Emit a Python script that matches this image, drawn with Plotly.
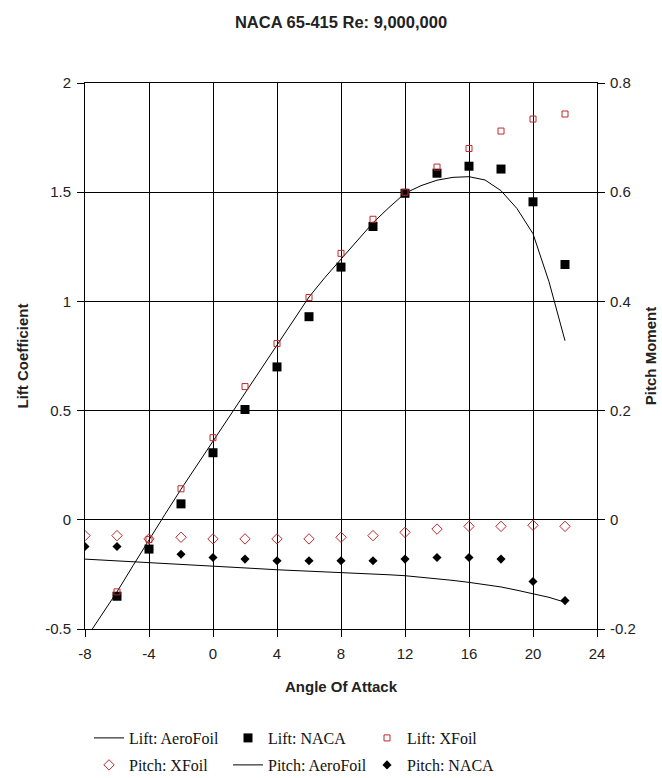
import plotly.graph_objects as go

# ---- data ----
aoa_pts = [-6, -4, -2, 0, 2, 4, 6, 8, 10, 12, 14, 16, 18, 20, 22]
lift_naca = [-0.35, -0.134, 0.073, 0.307, 0.505, 0.70, 0.93, 1.157, 1.343, 1.495, 1.587, 1.619, 1.606, 1.456, 1.169]
lift_xfoil = [-0.33, -0.09, 0.142, 0.376, 0.61, 0.807, 1.018, 1.22, 1.376, 1.50, 1.615, 1.70, 1.78, 1.835, 1.858]

aoa_line = [-8, -7, -6, -5, -4, -3, -2, -1, 0, 1, 2, 3, 4, 5, 6, 7, 8, 9, 10, 11, 12,
            13, 14, 15, 16, 17, 18, 19, 20, 21, 22]
lift_aerofoil = [-0.55, -0.44, -0.33, -0.21, -0.09, 0.025, 0.14, 0.25, 0.36, 0.47, 0.58,
                 0.69, 0.80, 0.91, 1.02, 1.11, 1.195, 1.28, 1.36, 1.43, 1.495,
                 1.53, 1.555, 1.568, 1.571, 1.556, 1.507, 1.425, 1.31, 1.09, 0.82]
pitch_aerofoil = [-0.072, -0.0735, -0.075, -0.0765, -0.078, -0.0797, -0.0815, -0.0832, -0.085,
                  -0.0865, -0.088, -0.0898, -0.0915, -0.0927, -0.094, -0.095, -0.096,
                  -0.0975, -0.099, -0.1007, -0.1024, -0.105, -0.108, -0.111, -0.1146,
                  -0.1185, -0.123, -0.129, -0.136, -0.142, -0.151]

aoa_pitch = [-8, -6, -4, -2, 0, 2, 4, 6, 8, 10, 12, 14, 16, 18, 20, 22]
pitch_xfoil = [-0.029, -0.029, -0.035, -0.032, -0.035, -0.035, -0.035, -0.035, -0.032,
               -0.029, -0.023, -0.017, -0.012, -0.012, -0.010, -0.012]
pitch_naca = [-0.049, -0.049, -0.054, -0.063, -0.069, -0.072, -0.075, -0.075, -0.075,
              -0.075, -0.072, -0.069, -0.069, -0.072, -0.113, -0.148]

x_ticks = [-8, -4, 0, 4, 8, 12, 16, 20, 24]
x_labels = ["-8", "-4", "0", "4", "8", "12", "16", "20", "24"]
y_ticks = [-0.5, 0, 0.5, 1, 1.5, 2]
y_labels = ["-0.5", "0", "0.5", "1", "1.5", "2"]
y2_ticks = [-0.2, 0, 0.2, 0.4, 0.6, 0.8]
y2_labels = ["-0.2", "0", "0.2", "0.4", "0.6", "0.8"]

RED = "#C0282D"
SERIF = "Liberation Serif, Times New Roman, serif"
SANS = "Liberation Sans, Arial, sans-serif"
TXT = "#222"

fig = go.Figure()
fig.add_trace(go.Scatter(x=aoa_line, y=lift_aerofoil, mode="lines", name="Lift: AeroFoil",
                         line=dict(color="black", width=1), legend="legend"))
fig.add_trace(go.Scatter(x=aoa_pts, y=lift_naca, mode="markers", name="Lift: NACA",
                         marker=dict(symbol="square", size=9, color="black"), legend="legend"))
fig.add_trace(go.Scatter(x=aoa_pts, y=lift_xfoil, mode="markers", name="Lift: XFoil",
                         marker=dict(symbol="square-open", size=6, color=RED, line=dict(width=1)),
                         legend="legend"))
fig.add_trace(go.Scatter(x=aoa_pitch, y=pitch_xfoil, mode="markers", name="Pitch: XFoil", yaxis="y2",
                         marker=dict(symbol="diamond-open", size=8, color=RED, line=dict(width=1)),
                         legend="legend2"))
fig.add_trace(go.Scatter(x=aoa_line, y=pitch_aerofoil, mode="lines", name="Pitch: AeroFoil", yaxis="y2",
                         line=dict(color="black", width=1), legend="legend2"))
fig.add_trace(go.Scatter(x=aoa_pitch, y=pitch_naca, mode="markers", name="Pitch: NACA", yaxis="y2",
                         marker=dict(symbol="diamond", size=7, color="black"), legend="legend2"))

axis_common = dict(showline=True, linecolor="black", linewidth=1, automargin=False,
                   ticks="outside", ticklen=7, tickcolor="black", zeroline=False,
                   tickfont=dict(family=SANS, size=15, color=TXT))

W, H = 662, 778
PLOT_LEFT, PLOT_RIGHT = 85, 597
PLOT_TOP, PLOT_BOT = 83, 629


def legend_cfg(row_center_px):
    return dict(orientation="h", xref="container", yref="container",
                x=89 / W, xanchor="left",
                y=1 - row_center_px / H, yanchor="middle",
                entrywidth=94, font=dict(family=SERIF, size=16, color="#111"),
                itemwidth=30, bgcolor="rgba(0,0,0,0)")


fig.update_layout(
    width=W, height=H,
    margin=dict(l=PLOT_LEFT, r=W - PLOT_RIGHT, t=PLOT_TOP, b=H - PLOT_BOT, autoexpand=False),
    paper_bgcolor="white", plot_bgcolor="white",
    title=dict(text="<b>NACA 65-415 Re: 9,000,000</b>", x=0.5, xref="paper", xanchor="center",
               y=1 - 22 / H, yanchor="middle", font=dict(family=SANS, size=16.5, color=TXT)),
    xaxis=dict(range=[-8, 24], tickvals=x_ticks, ticktext=x_labels, showgrid=True,
               gridcolor="black", gridwidth=1, mirror=True, ticklabelstandoff=4,
               title=dict(text="<b>Angle Of Attack</b>", font=dict(family=SANS, size=15, color=TXT),
                          standoff=20),
               **axis_common),
    yaxis=dict(range=[-0.5, 2], tickvals=y_ticks, ticktext=y_labels, showgrid=True,
               gridcolor="black", gridwidth=1, ticklabelstandoff=3,
               title=dict(text="<b>Lift Coefficient</b>", font=dict(family=SANS, size=15, color=TXT),
                          standoff=12),
               **axis_common),
    yaxis2=dict(range=[-0.2, 0.8], tickvals=y2_ticks, ticktext=y2_labels, overlaying="y",
                side="right", showgrid=False, ticklabelstandoff=2,
                title=dict(text="<b>Pitch Moment</b>", font=dict(family=SANS, size=15, color=TXT),
                           standoff=10),
                **axis_common),
    legend=legend_cfg(738),
    legend2=legend_cfg(765),
    showlegend=True,
)

fig.write_html("out.html")
